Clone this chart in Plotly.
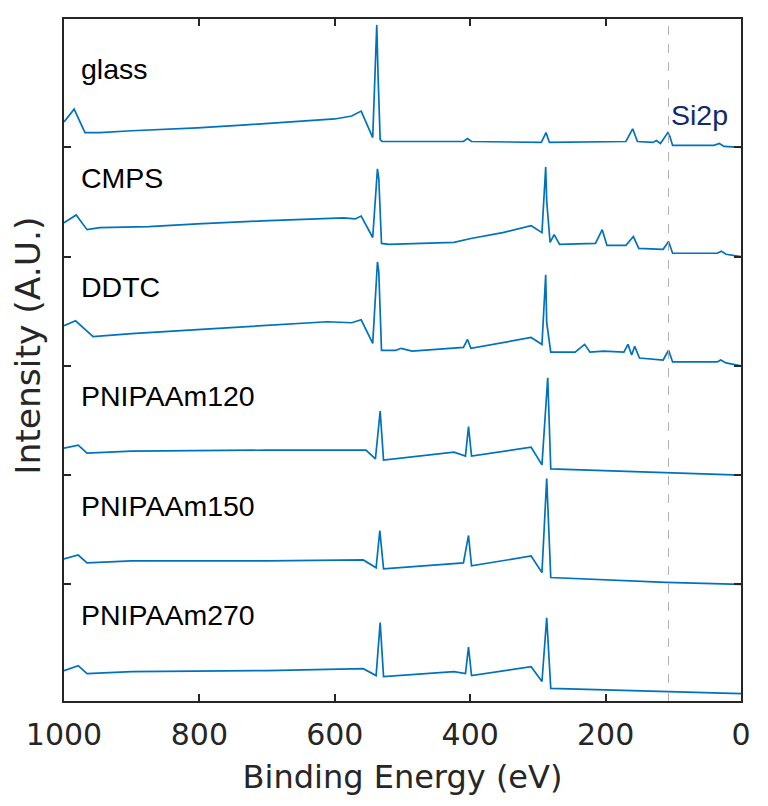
import plotly.graph_objects as go

# XPS survey spectra
# energies in eV, intensities relative to each trace's own offset
names = ["glass", "CMPS", "DDTC", "PNIPAAm120", "PNIPAAm150", "PNIPAAm270"]
offsets = [4, 3, 2, 1, 0, -1]

glass_e = [1000, 985, 969, 947, 900, 803, 731, 659, 600, 575, 561, 544, 538, 536, 533, 530,
           410, 404, 398, 295, 288, 283, 170, 160, 153, 130, 125, 119, 108, 105, 101, 40, 32, 25, 0]
glass_i = [0.233, 0.350, 0.135, 0.135, 0.152, 0.179, 0.206, 0.233, 0.260, 0.287, 0.332, 0.090,
           1.121, 0.637, 0.072, 0.054, 0.054, 0.081, 0.054, 0.045, 0.135, 0.045, 0.054, 0.170,
           0.054, 0.045, 0.063, 0.036, 0.135, 0.099, 0.018, 0.018, 0.036, 0.009, 0.0]

cmps_e = [1000, 982, 966, 947, 875, 803, 707, 611, 587, 570, 561, 544, 537, 535, 531, 520,
          470, 424, 399, 352, 310, 294, 288.5, 287, 282, 276, 268, 215, 205, 198, 170, 159,
          151, 115, 107, 104, 101, 35, 29, 22, 0]
cmps_i = [0.309, 0.381, 0.247, 0.265, 0.274, 0.300, 0.327, 0.345, 0.354, 0.345, 0.372, 0.175,
          0.803, 0.713, 0.121, 0.112, 0.121, 0.130, 0.166, 0.220, 0.283, 0.220, 0.821, 0.507,
          0.130, 0.202, 0.112, 0.121, 0.247, 0.103, 0.103, 0.184, 0.076, 0.067, 0.139, 0.085,
          0.031, 0.031, 0.049, 0.022, 0.0]

ddtc_e = [1000, 983, 957, 900, 803, 707, 611, 575, 561, 544, 537, 535, 531, 510, 502, 486,
          410, 404, 399, 310, 294, 288.5, 287, 281, 245, 231, 223, 203, 173, 167, 161.5, 157,
          150, 115, 107, 101, 35, 30, 22, 0]
ddtc_i = [0.368, 0.413, 0.269, 0.296, 0.332, 0.368, 0.404, 0.395, 0.422, 0.206, 0.951, 0.861,
          0.143, 0.143, 0.161, 0.135, 0.170, 0.242, 0.161, 0.260, 0.197, 0.834, 0.395, 0.126,
          0.126, 0.197, 0.126, 0.135, 0.126, 0.197, 0.099, 0.179, 0.072, 0.054, 0.143, 0.036,
          0.036, 0.054, 0.027, 0.0]

p120_e = [1000, 979, 966, 900, 700, 554, 540, 533, 528, 424, 407, 402.5, 398, 310, 294,
          285.5, 281, 111, 0]
p120_i = [0.247, 0.274, 0.202, 0.220, 0.229, 0.229, 0.148, 0.587, 0.139, 0.211, 0.175, 0.444,
          0.175, 0.256, 0.094, 0.892, 0.058, 0.022, 0.0]

p150_e = [1000, 979, 966, 900, 700, 558, 539, 533.5, 528, 410, 402.5, 398, 310, 294, 287,
          281, 111, 0]
p150_i = [0.233, 0.269, 0.197, 0.215, 0.215, 0.224, 0.152, 0.493, 0.143, 0.197, 0.448, 0.170,
          0.260, 0.108, 0.969, 0.063, 0.018, 0.0]

p270_e = [1000, 979, 966, 900, 700, 558, 539, 533, 528, 424, 407, 402.5, 398, 310, 294, 287,
          281, 111, 0]
p270_i = [0.211, 0.256, 0.184, 0.202, 0.211, 0.229, 0.166, 0.650, 0.157, 0.202, 0.184, 0.426,
          0.166, 0.247, 0.112, 0.695, 0.049, 0.022, 0.0]

energies = [glass_e, cmps_e, ddtc_e, p120_e, p150_e, p270_e]
intensities = [glass_i, cmps_i, ddtc_i, p120_i, p150_i, p270_i]

si2p_energy = 107
x_ticks = [0, 200, 400, 600, 800, 1000]
y_ticks = [0, 1, 2, 3, 4]

line_color = 'rgb(0, 114, 189)'
axis_color = '#262626'
label_font = 'Liberation Sans, Arial'
axis_font = 'DejaVu Sans'

fig = go.Figure()
for name, off, e, i in zip(names, offsets, energies, intensities):
    fig.add_trace(go.Scatter(
        x=e,
        y=[off + v for v in i],
        name=name,
        mode='lines',
        line=dict(color=line_color, width=1.7),
        showlegend=False,
    ))

# Si2p marker line
fig.add_shape(type='line', x0=si2p_energy, x1=si2p_energy, y0=0, y1=1,
              xref='x', yref='paper',
              line=dict(color='#b0b0b0', width=1, dash='dash'))

annots = []
for name, off in zip(names, offsets):
    annots.append(dict(x=0.022, y=off + 0.72, xref='paper', yref='y', text=name,
                       showarrow=False, xanchor='left', yanchor='middle',
                       font=dict(family=label_font, size=28.5, color='black')))
annots.append(dict(x=si2p_energy - 1, y=4.30, xref='x', yref='y', text='Si2p',
                   showarrow=False, xanchor='left', yanchor='middle',
                   font=dict(family=label_font, size=28.5, color='#102a6b')))
annots.append(dict(x=-0.053, y=0.521, xref='paper', yref='paper', text='Intensity (A.U.)',
                   showarrow=False, textangle=-90, xanchor='center', yanchor='middle',
                   font=dict(family=axis_font, size=34.5, color=axis_color)))

# page body keeps an 8px margin; page must stay inside 768x806
fig.update_layout(
    width=752,
    height=790,
    margin=dict(l=55.5, r=10, t=9, b=85),
    paper_bgcolor='white',
    plot_bgcolor='white',
    annotations=annots,
    xaxis=dict(
        range=[1000, 0],
        tickvals=x_ticks,
        ticks='inside',
        ticklen=7,
        tickwidth=1.5,
        tickcolor=axis_color,
        showline=True,
        linecolor=axis_color,
        linewidth=2,
        mirror='allticks',
        showgrid=False,
        zeroline=False,
        ticklabelstandoff=6,
        ticklabeloverflow='allow',
        tickfont=dict(family=axis_font, size=30, color=axis_color),
        title=dict(text='Binding Energy (eV)', standoff=15,
                   font=dict(family=axis_font, size=32, color=axis_color)),
    ),
    yaxis=dict(
        range=[-1.067, 5.175],
        tickvals=y_ticks,
        showticklabels=False,
        ticks='inside',
        ticklen=7,
        tickwidth=1.5,
        tickcolor=axis_color,
        showline=True,
        linecolor=axis_color,
        linewidth=2,
        mirror='allticks',
        showgrid=False,
        zeroline=False,
    ),
)

fig.write_html("out.html")
